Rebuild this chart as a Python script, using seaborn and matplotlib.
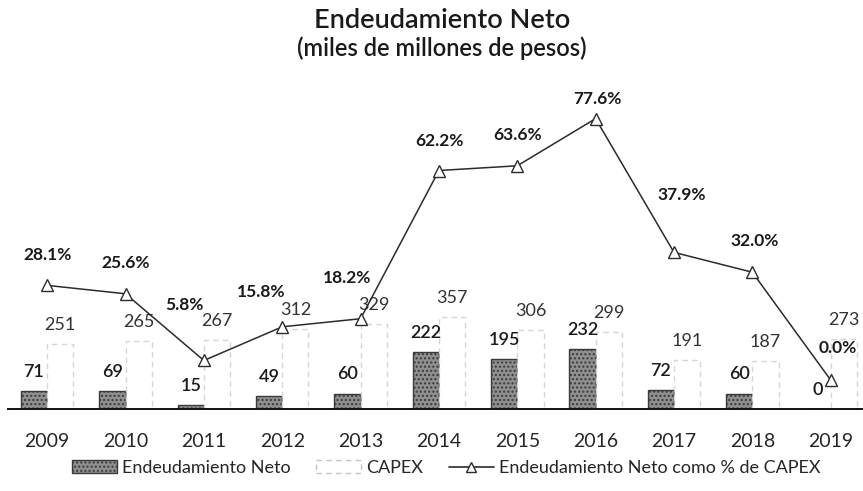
import pandas as pd
import seaborn as sns
import matplotlib.pyplot as plt
from matplotlib.patches import Patch
from matplotlib.lines import Line2D

years = ["2009", "2010", "2011", "2012", "2013", "2014", "2015", "2016", "2017", "2018", "2019"]
endeudamiento = [71, 69, 15, 49, 60, 222, 195, 232, 72, 60, 0]
capex = [251, 265, 267, 312, 329, 357, 306, 299, 191, 187, 273]
pct_capex = [28.1, 25.6, 5.8, 15.8, 18.2, 62.2, 63.6, 77.6, 37.9, 32.0, 0.0]

# label offsets for the % labels (pixels), just to mimic the original placement
pct_offsets = [(0, 30), (0, 31), (-19, 55), (-21, 35), (-13, 41), (1, 30),
               (0, 31), (2, 20), (8, 57), (2, 31), (7, 32)]

sns.set_style("white")
plt.rcParams['font.family'] = ['Lato', 'DejaVu Sans']

df = pd.DataFrame({
    "year": years * 2,
    "value": endeudamiento + capex,
    "serie": ["Endeudamiento Neto"] * len(years) + ["CAPEX"] * len(years),
})

fig = plt.figure(figsize=(8.63, 4.91), dpi=100)
ax = fig.add_axes([8 / 863, 82 / 491, 854 / 863, 319 / 491])

sns.barplot(data=df, x="year", y="value", hue="serie", order=years,
            hue_order=["Endeudamiento Neto", "CAPEX"],
            palette=["#8f8f8f", "white"], width=0.67, ax=ax, legend=False)

bars_end = ax.containers[0]
bars_cap = ax.containers[1]
for b in bars_end:
    b.set_edgecolor("#3a3a3a")
    b.set_linewidth(1.0)
    b.set_hatch("....")
for b in bars_cap:
    b.set_edgecolor("#d6d6d6")
    b.set_linewidth(1.0)
    b.set_linestyle((0, (4, 3)))

ax.bar_label(bars_end, labels=[str(v) for v in endeudamiento], padding=8,
             fontsize=13, color="#1a1a1a", fontweight="semibold")
ax.bar_label(bars_cap, labels=[str(v) for v in capex], padding=8,
             fontsize=13, color="#333333")

ax.set_xlim(-0.5, 10.4)
ax.set_ylim(0, 1241)
ax.set_xlabel("")
ax.set_ylabel("")
ax.set_yticks([])
ax.tick_params(axis="x", length=0, labelsize=14, pad=17)
for s in ["top", "right", "left"]:
    ax.spines[s].set_visible(False)
ax.spines["bottom"].set_color("#111111")
ax.spines["bottom"].set_linewidth(1.4)

ax2 = ax.twinx()
sns.pointplot(x=years, y=pct_capex, order=years, color="#2b2b2b", markers="^",
              linestyles="-", ax=ax2, linewidth=1.1, markersize=8,
              markerfacecolor="white", markeredgecolor="#2b2b2b", markeredgewidth=1.0)
ax2.set_xlim(-0.5, 10.4)
ax2.set_ylim(-8.6, 86.1)
ax2.set_yticks([])
ax2.set_ylabel("")
for s in ["top", "right", "left", "bottom"]:
    ax2.spines[s].set_visible(False)

for i, v in enumerate(pct_capex):
    dx, dy = pct_offsets[i]
    ax2.annotate(f"{v:.1f}%", (i, v), xytext=(dx, dy), textcoords="offset pixels",
                 ha="center", va="center", fontsize=12.5, fontweight="bold", color="#1a1a1a")

fig.text(0.512, 1 - 20 / 491, "Endeudamiento Neto", ha="center", va="center",
         fontsize=19.5, fontweight="semibold", color="#1a1a1a")
fig.text(0.512, 1 - 48 / 491, "(miles de millones de pesos)", ha="center", va="center",
         fontsize=17, fontweight="semibold", color="#1a1a1a")

handles = [
    Patch(facecolor="#8f8f8f", edgecolor="#3a3a3a", hatch="....", label="Endeudamiento Neto"),
    Patch(facecolor="white", edgecolor="#c4c4c4", linestyle=(0, (4, 3)), label="CAPEX"),
    Line2D([0], [0], color="#2b2b2b", lw=1.2, marker="^", markersize=7,
           markerfacecolor="white", markeredgecolor="#2b2b2b", label="Endeudamiento Neto como % de CAPEX"),
]
fig.legend(handles=handles, loc="center", bbox_to_anchor=(0.517, 1 - 468 / 491), ncol=3,
           frameon=False, fontsize=13, handlelength=2.5, handletextpad=0.3,
           columnspacing=1.4)

plt.savefig("out.png", dpi=100)
